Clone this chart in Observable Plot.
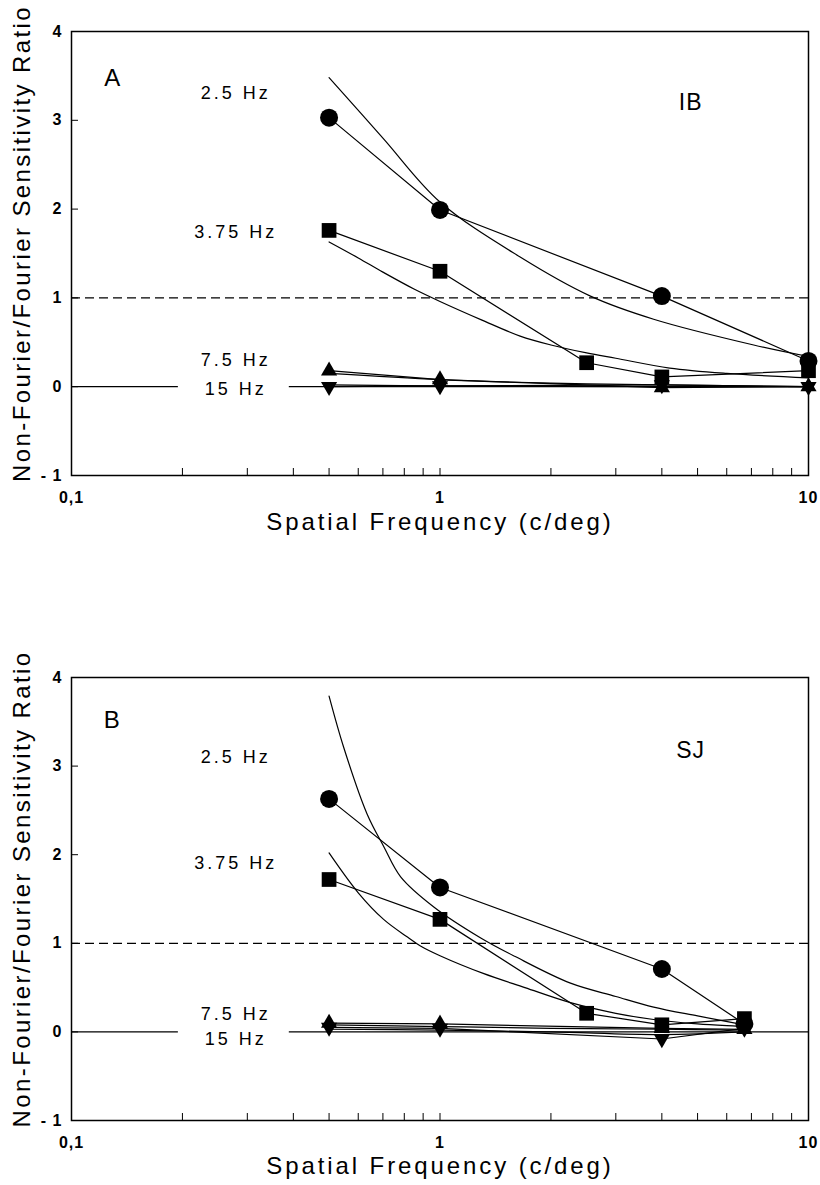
<!DOCTYPE html>
<html>
<head>
<meta charset="utf-8">
<script src="https://cdn.jsdelivr.net/npm/d3@7"></script>
<script src="https://cdn.jsdelivr.net/npm/@observablehq/plot@0.6"></script>
<style>
  body { margin: 0; background: #fff; }
  #chart svg { display: block; }
  g[aria-label="x-axis tick label"] text, g[aria-label="y-axis tick label"] text { font-size: 16px; font-weight: bold; letter-spacing: 1px; }
</style>
</head>
<body>
<div id="chart"></div>
<script>
// ---------- shared labels / ticks ----------
const seriesNames = ["2.5 Hz", "3.75 Hz", "7.5 Hz", "15 Hz"];
const yTicks = [-1, 0, 1, 2, 3, 4];
const xLabelTicks = [0.1, 1, 10];
const xLabelText = ["0,1", "1", "10"];
const xMinorTicks = [0.2, 0.3, 0.4, 0.5, 0.6, 0.7, 0.8, 0.9, 1, 2, 3, 4, 5, 6, 7, 8, 9];
const zeroSegments = [[0.1, 0.195], [0.39, 10]];
const xTitle = "Spatial Frequency (c/deg)";
const yTitle = "Non-Fourier/Fourier Sensitivity Ratio";

// ---------- Panel A (IB) measured ----------
const A_xCircle = [0.5, 1, 4, 10];
const A_yCircle = [3.03, 1.99, 1.02, 0.29];
const A_xSquare = [0.5, 1, 2.5, 4, 10];
const A_ySquare = [1.76, 1.30, 0.27, 0.11, 0.18];
const A_xTri = [0.5, 1, 4, 10];
const A_yUp = [0.18, 0.08, -0.01, 0.0];
const A_yDown = [0.0, 0.01, 0.02, 0.0];
// Panel A fitted curves
const A_fit25x = [0.5, 0.7, 1, 1.65, 2.56, 3.8, 7.1, 10];
const A_fit25y = [3.48, 2.80, 2.08, 1.46, 1.02, 0.76, 0.47, 0.34];
const A_fit375x = [0.5, 0.6, 0.7, 0.85, 1, 1.3, 1.65, 2, 2.5, 3, 4.2, 6, 10];
const A_fit375y = [1.63, 1.45, 1.29, 1.10, 0.96, 0.75, 0.57, 0.47, 0.38, 0.32, 0.21, 0.15, 0.10];
const A_fit75x = [0.5, 1, 2, 4, 10];
const A_fit75y = [0.15, 0.08, 0.04, 0.02, 0.0];
const A_fit15x = [0.5, 1, 4, 10];
const A_fit15y = [0.02, 0.01, 0.0, 0.0];

// ---------- Panel B (SJ) measured ----------
const B_xCircle = [0.5, 1, 4, 6.7];
const B_yCircle = [2.63, 1.63, 0.71, 0.09];
const B_xSquare = [0.5, 1, 2.5, 4, 6.7];
const B_ySquare = [1.72, 1.27, 0.21, 0.08, 0.15];
const B_xTri = [0.5, 1, 4, 6.7];
const B_yUp = [0.10, 0.09, 0.04, 0.03];
const B_yDown = [0.05, 0.04, -0.08, 0.04];
// Panel B fitted curves
const B_fit25x = [0.5, 0.548, 0.634, 0.704, 0.782, 0.962, 1.29, 1.6, 2.26, 3, 3.8, 5, 6.7];
const B_fit25y = [3.79, 3.21, 2.46, 2.09, 1.75, 1.41, 1.06, 0.85, 0.55, 0.40, 0.28, 0.18, 0.08];
const B_fit375x = [0.5, 0.6, 0.703, 0.816, 0.885, 1, 1.31, 1.7, 2.26, 3, 3.8, 5, 6.7];
const B_fit375y = [2.02, 1.57, 1.27, 1.07, 0.97, 0.86, 0.66, 0.50, 0.33, 0.21, 0.14, 0.09, 0.06];
const B_fit75x = [0.5, 1, 2, 4, 6.7];
const B_fit75y = [0.08, 0.06, 0.04, 0.03, 0.02];
const B_fit15x = [0.5, 1, 2, 4, 6.7];
const B_fit15y = [0.03, 0.02, 0.0, -0.03, 0.0];

// ---------- in-plot annotations ----------
const A_letter = {text: "A", x: 0.129, y: 3.47};
const A_subject = {text: "IB", x: 4.79, y: 3.2};
const A_hzX = 0.279;
const A_hzY = [3.30, 1.74, 0.30, -0.03];
const B_letter = {text: "B", x: 0.1285, y: 3.52};
const B_subject = {text: "SJ", x: 4.79, y: 3.18};
const B_hzX = 0.279;
const B_hzY = [3.10, 1.90, 0.20, -0.08];

// ---------- helpers ----------
const zip = (name, xs, ys) => xs.map((x, i) => ({series: name, x, y: ys[i]}));

const triangleDown = {
  draw(ctx, size) {
    const y = -Math.sqrt(size / (Math.sqrt(3) * 3));
    ctx.moveTo(0, -y * 2);
    ctx.lineTo(-Math.sqrt(3) * y, y);
    ctx.lineTo(Math.sqrt(3) * y, y);
    ctx.closePath();
  }
};

const FONT = "'Liberation Sans', Arial, Helvetica, sans-serif";

function panel(cfg) {
  const width = 820;
  const frameW = width - cfg.marginLeft - cfg.marginRight;
  const frameH = cfg.height - cfg.marginTop - cfg.marginBottom;

  const obs = [
    ...zip(seriesNames[0], cfg.xCircle, cfg.yCircle),
    ...zip(seriesNames[1], cfg.xSquare, cfg.ySquare),
    ...zip(seriesNames[2], cfg.xTri, cfg.yUp),
    ...zip(seriesNames[3], cfg.xTri, cfg.yDown)
  ];
  const fits = [
    ...zip(seriesNames[0], cfg.fit25x, cfg.fit25y),
    ...zip(seriesNames[1], cfg.fit375x, cfg.fit375y),
    ...zip(seriesNames[2], cfg.fit75x, cfg.fit75y),
    ...zip(seriesNames[3], cfg.fit15x, cfg.fit15y)
  ];
  const symbols = [
    {name: seriesNames[0], symbol: "circle", r: 9},
    {name: seriesNames[1], symbol: "square", r: 8.3},
    {name: seriesNames[2], symbol: "triangle", r: 6},
    {name: seriesNames[3], symbol: triangleDown, r: 6}
  ];
  const hzLabels = seriesNames.map((s, i) => ({text: s, x: cfg.hzX, y: cfg.hzY[i]}));

  const svg = Plot.plot({
    width,
    height: cfg.height,
    marginLeft: cfg.marginLeft,
    marginRight: cfg.marginRight,
    marginTop: cfg.marginTop,
    marginBottom: cfg.marginBottom,
    style: {fontFamily: FONT, fontSize: "15px", color: "black", background: "white"},
    x: {type: "log", domain: [0.1, 10]},
    y: {domain: [-1, 4]},
    marks: [
      Plot.ruleY([1], {strokeDasharray: "9,5", strokeWidth: 1.2}),
      Plot.ruleY(zeroSegments, {y: () => 0, x1: d => d[0], x2: d => d[1], strokeWidth: 1.2}),
      Plot.tickX(xMinorTicks, {x: d => d, insetTop: frameH - 7, strokeWidth: 1}),
      Plot.tickY(yTicks, {y: d => d, insetRight: frameW - 7, strokeWidth: 1}),
      Plot.line(fits, {x: "x", y: "y", z: "series", curve: "catmull-rom", strokeWidth: 1.2}),
      Plot.line(obs, {x: "x", y: "y", z: "series", strokeWidth: 1.2}),
      ...symbols.map(s => Plot.dot(obs.filter(d => d.series === s.name),
        {x: "x", y: "y", symbol: s.symbol, r: s.r, fill: "black", stroke: "none"})),
      Plot.frame({stroke: "black", strokeWidth: 1.5}),
      Plot.axisX({ticks: xLabelTicks, tickFormat: d => xLabelText[xLabelTicks.indexOf(d)],
        tickSize: 0, tickPadding: 16, label: null, fontSize: 16, fontWeight: "bold"}),
      Plot.axisY({ticks: yTicks, tickFormat: d => d < 0 ? "- 1" : String(d),
        tickSize: 0, tickPadding: 9, label: null, fontSize: 16, fontWeight: "bold"}),
      Plot.text(hzLabels, {x: "x", y: "y", text: "text", fontSize: 18, ariaDescription: "hzlabel"}),
      Plot.text([cfg.letter], {x: "x", y: "y", text: "text", fontSize: 24}),
      Plot.text([cfg.subject], {x: "x", y: "y", text: "text", fontSize: 23, ariaDescription: "subject"}),
      Plot.text([xTitle], {text: d => d, frameAnchor: "bottom", textAnchor: "middle", dy: cfg.xTitleDy, fontSize: 24, ariaDescription: "xtitle"}),
      Plot.text([yTitle], {text: d => d, frameAnchor: "left", textAnchor: "middle", rotate: -90, dx: -49, dy: cfg.yTitleDy, fontSize: 24, ariaDescription: "ytitle"})
    ]
  });

  const spacing = {hzlabel: "3", xtitle: "2.9", ytitle: "2.4", subject: "1"};
  for (const [k, v] of Object.entries(spacing)) {
    svg.querySelectorAll(`g[aria-description="${k}"]`).forEach(g => g.setAttribute("letter-spacing", v));
  }
  return svg;
}

const chart = document.getElementById("chart");
chart.appendChild(panel({
  height: 590, marginTop: 31, marginBottom: 115, marginLeft: 71, marginRight: 12,
  xCircle: A_xCircle, yCircle: A_yCircle, xSquare: A_xSquare, ySquare: A_ySquare,
  xTri: A_xTri, yUp: A_yUp, yDown: A_yDown,
  fit25x: A_fit25x, fit25y: A_fit25y, fit375x: A_fit375x, fit375y: A_fit375y,
  fit75x: A_fit75x, fit75y: A_fit75y, fit15x: A_fit15x, fit15y: A_fit15y,
  letter: A_letter, subject: A_subject, hzX: A_hzX, hzY: A_hzY,
  xTitleDy: 54, yTitleDy: -10
}));
chart.appendChild(panel({
  height: 595, marginTop: 87, marginBottom: 65, marginLeft: 71, marginRight: 12,
  xCircle: B_xCircle, yCircle: B_yCircle, xSquare: B_xSquare, ySquare: B_ySquare,
  xTri: B_xTri, yUp: B_yUp, yDown: B_yDown,
  fit25x: B_fit25x, fit25y: B_fit25y, fit375x: B_fit375x, fit375y: B_fit375y,
  fit75x: B_fit75x, fit75y: B_fit75y, fit15x: B_fit15x, fit15y: B_fit15y,
  letter: B_letter, subject: B_subject, hzX: B_hzX, hzY: B_hzY,
  xTitleDy: 53, yTitleDy: -10
}));
</script>
</body>
</html>
